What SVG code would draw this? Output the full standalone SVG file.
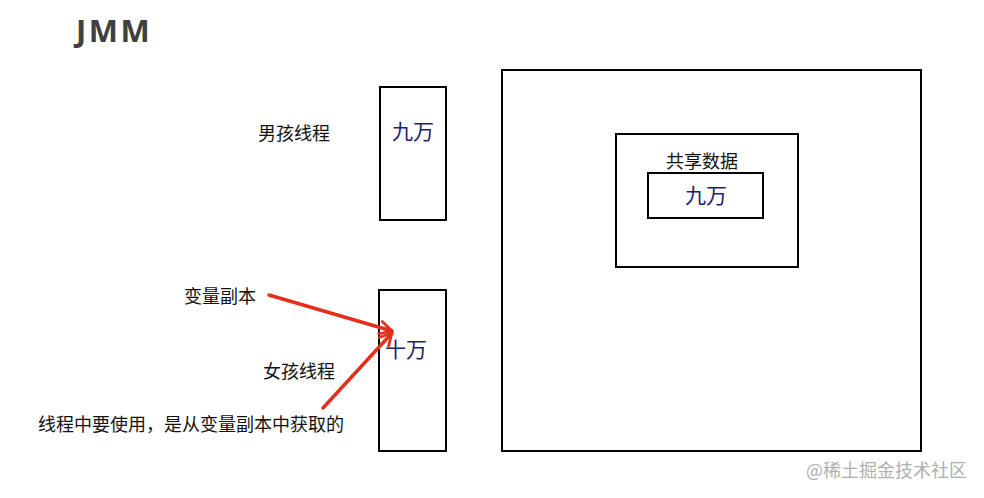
<svg xmlns="http://www.w3.org/2000/svg" width="984" height="498" viewBox="0 0 984 498">
<defs>
<style>
.box{fill:#fff;stroke:#000;stroke-width:2}
.lbl{font-family:"Liberation Sans","Noto Sans CJK SC",sans-serif;font-size:18px;fill:#111}
.val{font-family:"Liberation Serif","Noto Sans CJK SC",serif;font-size:21px;fill:#1c1c70}
.arrow{stroke:#e3301c;stroke-width:3.5;fill:none;stroke-linecap:round}
</style>
<marker id="ah" viewBox="0 0 20 20" refX="18" refY="10" markerWidth="16" markerHeight="16" markerUnits="userSpaceOnUse" orient="auto" overflow="visible">
<path d="M3,2 L18,10 L3,18" fill="none" stroke="#e3301c" stroke-width="3.5" stroke-linecap="round" stroke-linejoin="round"/>
</marker>
</defs>
<rect width="984" height="498" fill="#fff"/>
<text x="76" y="42" font-family="'Open Sans','DejaVu Sans',sans-serif" font-weight="bold" font-size="31" letter-spacing="2.5" fill="#404040">JMM</text>
<g id="boy-label"><text class="lbl" x="258" y="140">男孩线程</text></g>
<g id="boy-thread">
<rect class="box" x="380" y="87" width="66" height="133"/>
<text class="val" x="392" y="139">九万</text>
</g>
<g id="girl-label"><text class="lbl" x="263" y="378">女孩线程</text></g>
<g id="girl-thread">
<rect class="box" x="379" y="290" width="67" height="161"/>
<text class="val" x="385" y="357">十万</text>
</g>
<g id="copy-label"><text class="lbl" x="184" y="303">变量副本</text></g>
<g id="use-label"><text class="lbl" x="38" y="431">线程中要使用，是从变量副本中获取的</text></g>
<g id="main-memory">
<rect class="box" x="502" y="70" width="419" height="381"/>
</g>
<g id="shared-data">
<rect class="box" x="616" y="134" width="182" height="133"/>
<text class="lbl" x="666" y="168">共享数据</text>
<rect class="box" x="648" y="173" width="115" height="45"/>
<text class="val" x="685" y="203">九万</text>
</g>
<g id="connectors">
<line class="arrow" x1="269" y1="295" x2="392" y2="331" marker-end="url(#ah)"/>
<line class="arrow" x1="323" y1="408" x2="392" y2="333" marker-end="url(#ah)"/>
</g>
<text x="806" y="477" font-family="'Noto Sans CJK SC',sans-serif" font-size="18" fill="#b0b0b0">@稀土掘金技术社区</text>
</svg>
